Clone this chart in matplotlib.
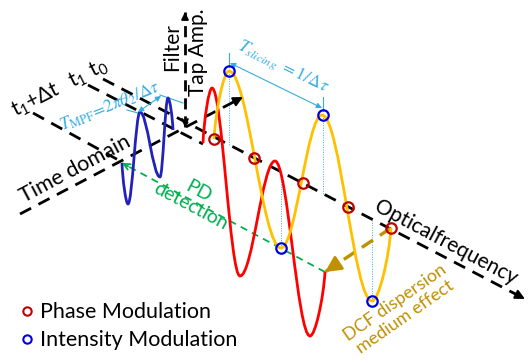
import matplotlib
matplotlib.use("Agg")
import matplotlib.pyplot as plt
from matplotlib.path import Path
from matplotlib.patches import PathPatch

plt.rcParams["font.family"] = ["Lato", "DejaVu Sans"]

# the sketch is laid out in picture pixels, y pointing down
# wave knots: start point, the extrema, end point
blue_x = [122, 128, 140, 160, 168, 173]
blue_y = [163, 204, 112, 177, 98, 130]
red_x = [203, 212, 240, 275, 310, 325]
red_y = [143, 88, 276, 161, 336, 272]
yellow_x = [214, 229, 281, 322, 372, 391]
yellow_y = [139, 71, 248, 115, 301, 228]

# sampled points on the yellow response
phase_x = [214, 254, 303, 348, 391]
phase_y = [139, 158, 183, 207, 228]
inten_x = [229, 281, 323, 372]
inten_y = [71, 248, 115, 301]
axis_y = [146, 173, 194, 220]  # drop lines end on the frequency axis

# straight guides (x0, y0, x1, y1)
time_axis = (20, 214, 243, 97)
freq_axis = (103, 79, 525, 299)
t1_line = (88, 85, 203, 144)
t2_line = (33, 113, 122, 162)
amp_axis = (185, 127, 185, 12)
pd_line = (325, 272, 122, 163)
dcf_arrow = (391, 228, 325, 272)
slicing_arrow = (230, 63, 322, 108)
mpf_arrow = (138, 112, 161, 96)

LBLUE = "#35ade0"


def wave(ax, xs, ys, color):
    verts = [(xs[0], ys[0])]
    codes = [Path.MOVETO]
    n = len(xs)
    for i in range(n - 1):
        dx = xs[i + 1] - xs[i]
        dy = ys[i + 1] - ys[i]
        if i > 0:
            c1 = (xs[i] + 0.36 * dx, ys[i])
        else:
            c1 = (xs[i] + 0.1 * dx, ys[i] + 0.4 * dy)
        if i + 1 < n - 1:
            c2 = (xs[i + 1] - 0.36 * dx, ys[i + 1])
        else:
            c2 = (xs[i + 1] - 0.1 * dx, ys[i + 1] - 0.4 * dy)
        verts += [c1, c2, (xs[i + 1], ys[i + 1])]
        codes += [Path.CURVE4] * 3
    ax.add_patch(PathPatch(Path(verts, codes), fill=False, ec=color, lw=2.0,
                           capstyle="butt", joinstyle="round", zorder=3))


def dashed(ax, seg, color="black", lw=2.0, dash=(4.5, 3)):
    x0, y0, x1, y1 = seg
    ax.plot([x0, x1], [y0, y1], color=color, lw=lw, linestyle=(0, dash),
            dash_capstyle="butt", zorder=2)


def head(ax, seg, color, style="-|>", ms=14, lw=1.5):
    x0, y0, x1, y1 = seg
    ax.annotate("", xy=(x1, y1), xytext=(x1 - (x1 - x0) * 0.03, y1 - (y1 - y0) * 0.03),
                arrowprops=dict(arrowstyle=style, color=color, lw=lw,
                                mutation_scale=ms, shrinkA=0, shrinkB=0), zorder=4)


fig = plt.figure(figsize=(5.29, 3.63), dpi=100)
ax = fig.add_axes([0, 0, 1, 1])
ax.set_xlim(0, 529)
ax.set_ylim(363, 0)
ax.axis("off")

# black axes
for seg in (time_axis, freq_axis, t1_line, t2_line):
    dashed(ax, seg)
head(ax, time_axis, "black")
head(ax, freq_axis, "black")
dashed(ax, amp_axis, dash=(4, 2.5))
head(ax, amp_axis, "black", ms=10)
head(ax, amp_axis[2:] + amp_axis[:2], "black", style="->", ms=10)

# PD detection path and DCF arrow
dashed(ax, pd_line, color="#00b050", lw=1.3, dash=(4, 3))
head(ax, pd_line, "#00b050", style="->", ms=11, lw=1.3)
dashed(ax, dcf_arrow, color="#bf9000", lw=2.4, dash=(4, 2.5))
head(ax, dcf_arrow, "#bf9000", ms=24, lw=2)

# drop lines from the sampled peaks to the axis
for x, y0, y1 in zip(inten_x, inten_y, axis_y):
    ax.plot([x, x], [y0, y1], color=LBLUE, lw=0.7, linestyle=(0, (1, 1.5)), zorder=1)

# waves
wave(ax, blue_x, blue_y, "#2222bb")
wave(ax, red_x, red_y, "#ff0000")
wave(ax, yellow_x, yellow_y, "#ffc000")

ax.plot(phase_x, phase_y, "o", ms=7.5, mfc="none", mec="#c00000", mew=1.6, zorder=5)
ax.plot(inten_x, inten_y, "o", ms=7.5, mfc="none", mec="#0000dd", mew=1.6, zorder=5)

# period markers
for x, y in zip(inten_x[::2], inten_y[::2]):
    ax.plot([x, x], [y - 18, y - 4], color=LBLUE, lw=0.8, zorder=1)
ax.annotate("", xy=slicing_arrow[2:], xytext=slicing_arrow[:2],
            arrowprops=dict(arrowstyle="<|-|>", color=LBLUE, lw=0.8,
                            mutation_scale=8, shrinkA=0, shrinkB=0))
ax.plot([127, 138], [110, 113], color=LBLUE, lw=0.8)
ax.plot([160, 183], [95, 103], color=LBLUE, lw=0.8)
ax.annotate("", xy=mpf_arrow[2:], xytext=mpf_arrow[:2],
            arrowprops=dict(arrowstyle="<|-|>", color=LBLUE, lw=0.8,
                            mutation_scale=8, shrinkA=0, shrinkB=0))

ax.text(283, 67, r"$T_{slicing}\ =1/\Delta\tau$", color=LBLUE, fontsize=12.5,
        rotation=-26, ha="center", va="center", rotation_mode="anchor",
        math_fontfamily="stix")
ax.text(110, 106, r"$T_{\mathrm{MPF}}\!=\!2\pi\theta_2/\Delta\tau$", color=LBLUE, fontsize=12.5,
        rotation=22, ha="center", va="center", rotation_mode="anchor",
        math_fontfamily="stix")

# labels
ax.text(60, 88, r"$\mathregular{t_1{+}\Delta t\ \ t_1\ t_0}$", fontsize=15, rotation=27,
        ha="center", va="center", rotation_mode="anchor", math_fontfamily="dejavusans")
ax.text(75, 169, "Time domain", fontsize=15.5, rotation=28,
        ha="center", va="center", rotation_mode="anchor")
ax.text(172, 47, "Filter", fontsize=15, rotation=90,
        ha="center", va="center", rotation_mode="anchor")
ax.text(198, 52, "Tap Amp.", fontsize=15, rotation=90,
        ha="center", va="center", rotation_mode="anchor")
ax.text(446, 242, "Opticalfrequency", fontsize=15, rotation=-28,
        ha="center", va="center", rotation_mode="anchor")
ax.text(195, 199, "PD\ndetection", fontsize=14, rotation=-28, color="#00b050",
        ha="center", va="center", rotation_mode="anchor", linespacing=1.0)
ax.text(400, 310, "DCF dispersion\nmedium effect", fontsize=13, rotation=35, color="#bf9000",
        ha="center", va="center", rotation_mode="anchor", linespacing=1.1)

# legend
ax.plot([27], [311], "o", ms=6, mfc="none", mec="#c00000", mew=1.5)
ax.plot([27], [339], "o", ms=6, mfc="none", mec="#0000dd", mew=1.5)
ax.text(40, 312, "Phase Modulation", fontsize=15.5, va="center")
ax.text(40, 340, "Intensity Modulation", fontsize=15.5, va="center")

fig.savefig("out.png", dpi=100)
